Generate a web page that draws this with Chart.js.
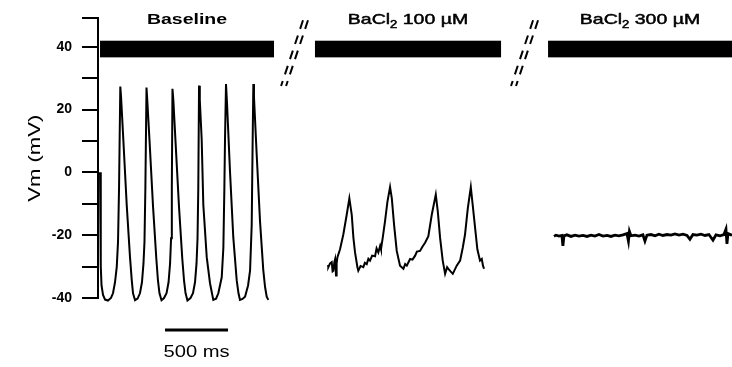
<!DOCTYPE html>
<html lang="en">
<head>
    <meta charset="UTF-8">
    <title>Vm traces - BaCl2</title>
    <style>
        body {
            margin: 0;
            background-color: #fff;
        }
        #wrap {
            width: 732px;
            height: 367px;
        }
    </style>
    <script src="https://cdn.jsdelivr.net/npm/chart.js"></script>
</head>
<body>
    <div id="wrap"><canvas id="vmChart"></canvas></div>

    <script>
        // Baseline trace: time in ms from trace start, Vm in mV
        const baseTime = [0, 6, 12, 24, 40, 63, 87, 103, 119, 133, 143, 151, 161, 167, 185, 212, 238, 252, 262, 278,
            298, 317, 333, 345, 353, 360, 369, 375, 393, 421, 447, 460, 472, 488,
            508, 528, 544, 556, 564, 570, 575, 582, 599, 627, 653, 667, 679, 694,
            718, 738, 754, 766, 774, 780, 786, 792, 807, 820, 847, 873, 899,
            921, 939, 966, 979, 987, 992, 1000, 1008, 1032, 1058, 1085, 1099, 1111,
            1131, 1151, 1175, 1191, 1204, 1210, 1217, 1222, 1244, 1270, 1296, 1310, 1323, 1336];
        const baseVm = [0, -30, -36, -39, -40.5, -40.8, -40, -38.5, -35, -30, -22, -5, 27.3, 24, 10.4, -10.4, -27, -34.4, -38.5, -40.7,
            -40.2, -38.5, -35, -29, -22, -5, 27, 23, 10, -11, -27.5, -34.5, -38.5, -40.7,
            -40, -38.5, -35, -29, -21, -5, 26.6, 23, 10, -11, -27.5, -34.5, -38.5, -40.8,
            -40, -38.5, -35, -29, -21, -5, 27.6, 23, 10.4, -10.4, -27, -35.3, -40.6,
            -40.2, -38.5, -33.4, -24, -5, 10.4, 28.1, 22, 0, -20.8, -34.4, -38.5, -40.6,
            -40.3, -39.6, -36, -31.2, -16.7, 5, 28.1, 24, 5.3, -15.6, -31.2, -36.5, -39.6, -40.6];

        // BaCl2 100 uM trace
        const ba100Time = [0, 2, 16, 29, 36, 42, 50, 56, 63, 68, 74, 95, 121, 148, 169, 188, 201, 214, 233, 240,
            258, 280, 292, 307, 320, 333, 350, 373, 385, 399, 413, 420, 434, 452, 471, 492, 506, 524, 545, 571,
            598, 612, 625, 651, 670, 690, 705, 730, 750, 770, 796, 823, 855, 871, 889, 910, 929, 945, 955, 972, 990,
            1021, 1048, 1069, 1087, 1109, 1133, 1148, 1167, 1185, 1206, 1220, 1230, 1238];
        const ba100Vm = [-29.5, -30.2, -29, -28.6, -31.5, -31.3, -28.5, -27.6, -32.8, -29, -27.1, -24.5, -19.8, -13.5, -8.3, -13.5, -20.8, -25.5, -30.2, -31.3,
            -29.8, -30.2, -28.8, -29.2, -27.5, -28.1, -26.5, -26.7, -24.2, -25.5, -23.4, -24.5, -20.8, -15.6, -9.4, -4.7, -8.3, -16.7, -25, -29.7,
            -30.7, -29.2, -29.7, -27.6, -27.8, -26.6, -25.2, -25, -23.6, -22.4, -20.3, -13.5, -7.1, -12.5, -20.8, -28.1, -32.3, -30.2, -30.7, -31.5, -32.3,
            -29.7, -28.1, -24, -19.8, -11.5, -4.7, -10.4, -17.7, -24.5, -28.1, -27.6, -29.8, -30.7];

        // BaCl2 300 uM trace
        const ba300Time = [0, 16, 40, 63, 71, 79, 103, 135, 167, 198, 230, 262, 294, 325, 357, 389, 421, 452, 484, 516,
            548, 579, 591, 599, 611, 643, 675, 706, 722, 738, 770, 802, 833, 865, 897, 929, 960, 992, 1024, 1056,
            1079, 1103, 1135, 1167, 1199, 1230, 1262, 1286, 1318, 1349, 1365, 1373, 1381, 1405, 1413];
        const ba300Vm = [-20.4, -20, -20.3, -20.1, -23.4, -20.2, -19.9, -20.4, -20, -20.3, -20.1, -20.4, -20, -20.3, -19.8, -20.3, -20.1, -20.4, -20, -20.2,
            -19.9, -19.5, -21.9, -18.8, -20.2, -20, -20.3, -19.9, -21.9, -20, -19.8, -20.2, -19.7, -20.1, -19.8, -20, -19.6, -20, -19.7, -20.1,
            -21.3, -19.8, -20, -19.7, -20.1, -19.8, -21.6, -19.9, -20.2, -19.8, -18.1, -22.8, -19.5, -19.9, -19.6];

        // where each trace starts on the shared time axis (ms), across the axis breaks
        const segStart = [0, 1810, 3603];

        // condition bars: [start ms, end ms] and their label
        const conditions = ['Baseline', 'BaCl2 100 µM', 'BaCl2 300 µM'];
        const condFrom = [0, 1706, 3556];
        const condTo = [1381, 3183, 5016];
        const barLow = 36.6;
        const barHigh = 41.9;

        // axis breaks (ms at bottom / top of the mark)
        const breakBottom = [1437, 3262];
        const breakTop = [1611, 3437];

        const yTicks = [-40, -30, -20, -10, 0, 10, 20, 30, 40, 49];
        const yLabels = [-40, -20, 0, 20, 40];

        const scaleBarStart = 516;
        const scaleBarLength = 500;

        const FONT = 'Arial, "Liberation Sans", Helvetica, sans-serif';

        function toPoints(times, values, offset) {
            return times.map((t, i) => ({ x: t + offset, y: values[i] }));
        }

        // text in the figure is drawn a bit wide, like the original
        function wideText(ctx, str, x, y, font, sx) {
            ctx.save();
            ctx.translate(x, y);
            ctx.scale(sx, 1);
            ctx.font = font;
            ctx.textAlign = 'center';
            ctx.fillText(str, 0, 0);
            ctx.restore();
        }

        function conditionLabel(ctx, label, x, y, bold) {
            const weight = bold ? 'bold ' : 'normal ';
            const main = weight + '15px ' + FONT;
            const sub = weight + '10px ' + FONT;
            ctx.save();
            ctx.translate(x, y);
            ctx.scale(1.3, 1);
            ctx.textAlign = 'left';
            ctx.fillStyle = '#000';
            ctx.strokeStyle = '#000';
            ctx.lineWidth = 0.5;
            const put = (s, px, py) => {
                ctx.fillText(s, px, py);
                if (!bold) ctx.strokeText(s, px, py);
            };
            if (label.indexOf('BaCl2') === 0) {
                const rest = label.slice(5);
                ctx.font = main;
                const w1 = ctx.measureText('BaCl').width;
                const w3 = ctx.measureText(rest).width;
                ctx.font = sub;
                const w2 = ctx.measureText('2').width;
                const px = -(w1 + w2 + w3) / 2;
                ctx.font = main;
                put('BaCl', px, 0);
                ctx.font = sub;
                put('2', px + w1, 4);
                ctx.font = main;
                put(rest, px + w1 + w2, 0);
            } else {
                ctx.font = main;
                const w = ctx.measureText(label).width;
                put(label, -w / 2, 0);
            }
            ctx.restore();
        }

        const decorations = {
            id: 'decorations',
            afterDraw(chart) {
                const ctx = chart.ctx;
                const xs = chart.scales.x;
                const ys = chart.scales.y;
                ctx.save();
                ctx.fillStyle = '#000';

                // condition bars and labels
                for (let i = 0; i < conditions.length; i++) {
                    const x1 = xs.getPixelForValue(condFrom[i]);
                    const x2 = xs.getPixelForValue(condTo[i]);
                    const yTop = ys.getPixelForValue(barHigh);
                    const yBot = ys.getPixelForValue(barLow);
                    ctx.fillRect(x1, yTop, x2 - x1, yBot - yTop);
                    conditionLabel(ctx, conditions[i], (x1 + x2) / 2, 24, i === 0);
                }

                // axis break marks
                ctx.strokeStyle = '#000';
                ctx.lineWidth = 2;
                ctx.setLineDash([9, 7]);
                for (let i = 0; i < breakBottom.length; i++) {
                    const xb = xs.getPixelForValue(breakBottom[i]);
                    const xt = xs.getPixelForValue(breakTop[i]);
                    const yb = ys.getPixelForValue(27.5);
                    const yt = ys.getPixelForValue(48.4);
                    [0, 5].forEach(dx => {
                        ctx.beginPath();
                        ctx.moveTo(xt + dx, yt);
                        ctx.lineTo(xb + dx, yb);
                        ctx.stroke();
                    });
                }
                ctx.setLineDash([]);

                // 500 ms scale bar
                const sb1 = xs.getPixelForValue(scaleBarStart);
                const sb2 = xs.getPixelForValue(scaleBarStart + scaleBarLength);
                const sy = chart.chartArea.bottom + 32;
                ctx.fillRect(sb1, sy - 1.5, sb2 - sb1, 3);
                wideText(ctx, scaleBarLength + ' ms', (sb1 + sb2) / 2, sy + 27, '16px ' + FONT, 1.26);

                // y axis title
                ctx.save();
                ctx.translate(35, (chart.chartArea.top + chart.chartArea.bottom) / 2);
                ctx.rotate(-Math.PI / 2);
                ctx.scale(1.3, 1);
                ctx.font = '17px ' + FONT;
                ctx.textAlign = 'center';
                ctx.textBaseline = 'middle';
                ctx.fillText('Vm (mV)', 0, 0);
                ctx.restore();

                ctx.restore();
            }
        };

        function traceStyle(width) {
            return {
                borderColor: '#000',
                borderWidth: width,
                pointRadius: 0,
                fill: false,
                tension: 0,
                clip: false
            };
        }

        new Chart(document.getElementById('vmChart'), {
            type: 'line',
            data: {
                datasets: [
                    Object.assign({ label: 'Baseline', data: toPoints(baseTime, baseVm, segStart[0]) }, traceStyle(2)),
                    Object.assign({ label: 'BaCl2 100 µM', data: toPoints(ba100Time, ba100Vm, segStart[1]) }, traceStyle(2)),
                    Object.assign({ label: 'BaCl2 300 µM', data: toPoints(ba300Time, ba300Vm, segStart[2]) }, traceStyle(2.8))
                ]
            },
            options: {
                responsive: true,
                maintainAspectRatio: false,
                animation: false,
                layout: {
                    padding: { top: 13, bottom: 69, left: 0, right: 0 }
                },
                plugins: {
                    legend: { display: false },
                    tooltip: { enabled: false }
                },
                scales: {
                    x: {
                        type: 'linear',
                        display: false,
                        min: -16,
                        max: 5016
                    },
                    y: {
                        min: -40,
                        max: 49,
                        afterFit(scale) {
                            scale.width = 98;
                        },
                        afterBuildTicks(scale) {
                            scale.ticks = yTicks.map(v => ({ value: v }));
                        },
                        border: { display: true, color: '#000', width: 2 },
                        grid: {
                            drawOnChartArea: false,
                            drawTicks: true,
                            tickLength: 16,
                            color: '#000',
                            lineWidth: 2
                        },
                        ticks: {
                            color: '#000',
                            padding: 10,
                            font: { family: FONT, size: 14, weight: 'bold' },
                            callback: v => (yLabels.includes(v) ? v : '')
                        }
                    }
                }
            },
            plugins: [decorations]
        });
    </script>
</body>
</html>
